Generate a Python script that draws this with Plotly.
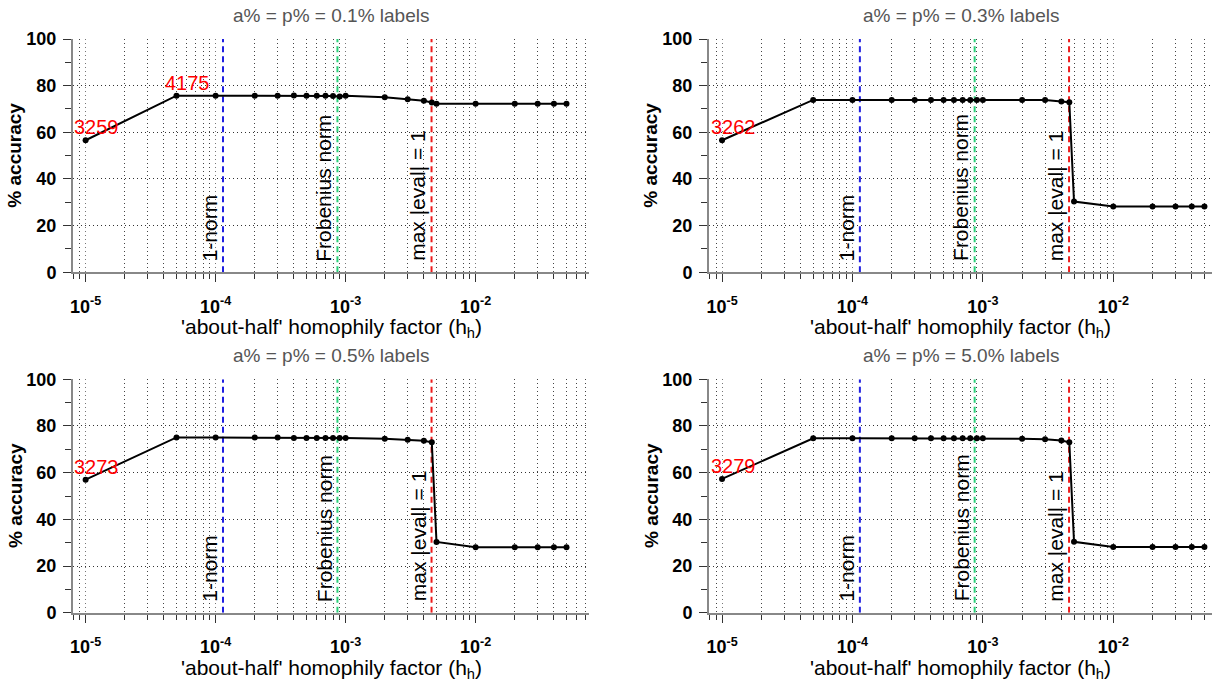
import math
import plotly.graph_objects as go

# ---------------- data ----------------
h_values = [1e-5, 5e-5, 1e-4, 2e-4, 3e-4, 4e-4, 5e-4, 6e-4, 7e-4, 8e-4, 9e-4,
            1e-3, 2e-3, 3e-3, 4e-3, 4.6e-3, 5e-3, 1e-2, 2e-2, 3e-2, 4e-2, 5e-2]

acc_01 = [56.6, 75.7, 75.7, 75.7, 75.7, 75.8, 75.7, 75.7, 75.7, 75.6, 75.4,
          75.7, 75.0, 74.2, 73.5, 72.8, 72.2, 72.2, 72.2, 72.2, 72.2, 72.2]
acc_03 = [56.6, 73.9, 73.9, 73.9, 73.9, 73.9, 73.9, 73.9, 73.9, 73.9, 73.9,
          73.8, 73.8, 73.9, 73.2, 72.9, 30.3, 28.2, 28.2, 28.2, 28.2, 28.2]
acc_05 = [57.0, 75.1, 75.1, 75.1, 75.1, 74.8, 74.8, 74.8, 74.8, 74.8, 74.8,
          74.8, 74.5, 74.1, 73.7, 73.0, 30.3, 28.0, 28.0, 28.0, 28.0, 28.0]
acc_50 = [57.3, 74.7, 74.7, 74.7, 74.7, 74.7, 74.7, 74.7, 74.7, 74.7, 74.7,
          74.7, 74.5, 74.3, 73.8, 73.0, 30.4, 28.1, 28.1, 28.1, 28.1, 28.1]

panel_titles = ["a% = p% = 0.1% labels", "a% = p% = 0.3% labels",
                "a% = p% = 0.5% labels", "a% = p% = 5.0% labels"]
panel_series = [acc_01, acc_03, acc_05, acc_50]
# (label text, index of the point it belongs to)
panel_point_labels = [[("3259", 0), ("4175", 1)], [("3262", 0)],
                      [("3273", 0)], [("3279", 0)]]

norm_names = ["1-norm", "Frobenius norm", "max |eval| = 1"]
norm_values = [1.14e-4, 8.65e-4, 4.58e-3]
norm_colors = ["#1f1fe0", "#2bd07a", "#ee1c1c"]

x_major = [1e-5, 1e-4, 1e-3, 1e-2]
x_major_text = ["10<sup>-5</sup>", "10<sup>-4</sup>", "10<sup>-3</sup>", "10<sup>-2</sup>"]
x_minor = [m * 10 ** e for e in range(-6, -1) for m in range(2, 10)]

y_major = [0, 20, 40, 60, 80, 100]
y_minor = [10, 30, 50, 70, 90]

x_title = "'about-half' homophily factor (h<sub>h</sub>)"
y_title = "% accuracy"

# ---------------- layout geometry (pixels) ----------------
W, H = 1215, 679
FONT = "Liberation Sans, Arial, Helvetica, sans-serif"
# (left, right, top, bottom, log-range)
panels_px = [
    (73, 589, 39, 272.3, [-5.097, -1.128]),
    (709, 1212, 39, 272.3, [-5.100, -1.243]),
    (73, 589, 379.3, 612.7, [-5.097, -1.128]),
    (709, 1212, 379.3, 612.7, [-5.100, -1.243]),
]


def pxx(x):
    return x / W


def pxy(y):
    return 1 - y / H


fig = go.Figure()
annotations = []
layout_axes = {}

for i, (l, r, t, b, xr) in enumerate(panels_px):
    n = i + 1
    xa = "x" if n == 1 else f"x{n}"
    ya = "y" if n == 1 else f"y{n}"
    xkey = "xaxis" if n == 1 else f"xaxis{n}"
    ykey = "yaxis" if n == 1 else f"yaxis{n}"

    # vertical reference lines
    for name, val, col in zip(norm_names, norm_values, norm_colors):
        fig.add_trace(go.Scatter(
            x=[val, val], y=[0, 100], mode="lines",
            line=dict(color=col, width=2, dash="6px,4px"),
            xaxis=xa, yaxis=ya, showlegend=False, hoverinfo="skip"))
        annotations.append(dict(
            x=math.log10(val), y=0, xref=xa, yref=ya,
            text=name, textangle=-90, showarrow=False,
            xanchor="right", yanchor="bottom", xshift=0, yshift=9,
            font=dict(family=FONT, size=21, color="black")))

    # accuracy series
    fig.add_trace(go.Scatter(
        x=h_values, y=panel_series[i], mode="lines+markers",
        line=dict(color="black", width=2),
        marker=dict(color="black", size=6),
        xaxis=xa, yaxis=ya, showlegend=False))

    for txt, idx in panel_point_labels[i]:
        annotations.append(dict(
            x=math.log10(h_values[idx]), y=panel_series[i][idx],
            xref=xa, yref=ya, text=txt, showarrow=False,
            xanchor="center", yanchor="bottom", xshift=11, yshift=0,
            font=dict(family=FONT, size=20, color="#ff0000")))

    layout_axes[xkey] = dict(
        domain=[pxx(l), pxx(r)], anchor=ya, type="log", range=xr,
        tickmode="array", tickvals=x_major, ticktext=x_major_text,
        ticks="outside", ticklen=8, tickwidth=1, tickcolor="#333",
        ticklabelstandoff=9,
        tickfont=dict(family=FONT, size=18, color="black", weight="bold"),
        showgrid=True, gridcolor="#777", griddash="1px,3px", gridwidth=1,
        showline=True, linecolor="#888", linewidth=2, zeroline=False,
        minor=dict(tickmode="array", tickvals=x_minor, ticks="outside",
                   ticklen=5, tickcolor="#333", showgrid=True,
                   gridcolor="#444", griddash="1px,3px", gridwidth=1),
    )
    layout_axes[ykey] = dict(
        domain=[pxy(b), pxy(t)], anchor=xa, range=[0, 100],
        tickmode="array", tickvals=y_major, ticks="outside", ticklen=8,
        tickwidth=1, tickcolor="#333", ticklabelstandoff=3,
        tickfont=dict(family=FONT, size=18, color="black", weight="bold"),
        showgrid=True, gridcolor="#333", griddash="1px,3px", gridwidth=1,
        showline=True, linecolor="#888", linewidth=2, zeroline=False,
        minor=dict(tickmode="array", tickvals=y_minor, ticks="outside",
                   ticklen=6, tickcolor="#333", showgrid=False),
    )

    cx = (l + r) / 2
    annotations.append(dict(
        x=pxx(cx), y=pxy(t - 24), xref="paper", yref="paper",
        text=panel_titles[i], showarrow=False, xanchor="center", yanchor="middle",
        font=dict(family=FONT, size=19, color="#555")))
    annotations.append(dict(
        x=pxx(cx), y=pxy(b + 56), xref="paper", yref="paper",
        text=x_title, showarrow=False, xanchor="center", yanchor="middle",
        font=dict(family=FONT, size=21, color="black")))
    annotations.append(dict(
        x=pxx(l - 58), y=pxy((t + b) / 2), xref="paper", yref="paper",
        text=y_title, textangle=-90, showarrow=False,
        xanchor="center", yanchor="middle",
        font=dict(family=FONT, size=19, color="black", weight="bold")))

fig.update_layout(
    width=W, height=H,
    margin=dict(l=0, r=0, t=0, b=0, pad=0, autoexpand=False),
    paper_bgcolor="white", plot_bgcolor="white",
    showlegend=False, annotations=annotations, **layout_axes)

fig.write_html(
    "out.html",
    config={"displayModeBar": False},
    post_script="document.body.style.margin='0';document.body.style.overflow='hidden';")
